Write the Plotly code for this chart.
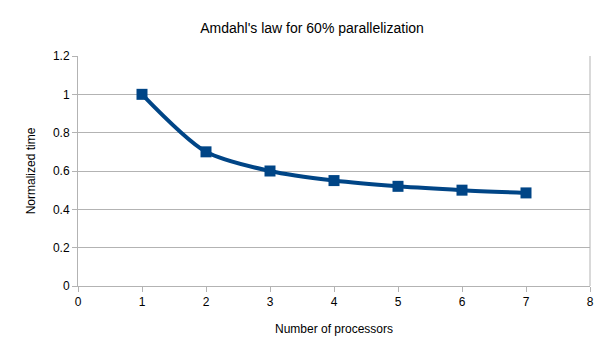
import plotly.graph_objects as go

processors = [1, 2, 3, 4, 5, 6, 7]
normalized_time = [1.0, 0.7, 0.6, 0.55, 0.52, 0.5, 0.4857]

title = "Amdahl's law for 60% parallelization"
x_title = "Number of processors"
y_title = "Normalized time"

color = "#004586"
grid = "#b3b3b3"
font = "Liberation Sans, Arial, sans-serif"

# page has an 8px body margin, so figure is 608x350 placed at (8, 8)
W, H = 608, 350

fig = go.Figure()
fig.add_trace(go.Scatter(
    x=processors, y=normalized_time, mode="lines+markers",
    line=dict(color=color, width=4, shape="spline", smoothing=0.8),
    marker=dict(symbol="square", size=11, color=color),
    showlegend=False,
))

fig.update_layout(
    width=W, height=H,
    margin=dict(l=70, r=26, t=48, b=72, autoexpand=False),
    paper_bgcolor="white", plot_bgcolor="white",
    font=dict(family=font, size=12, color="#000000"),
    title=dict(text=title, x=0.5, xanchor="center", y=1 - 20/H, yanchor="middle",
               font=dict(family=font, size=14, color="#000000")),
    xaxis=dict(range=[0, 8], dtick=1, tick0=0, showgrid=False, showline=True,
               linecolor=grid, linewidth=1, mirror=False, ticks="outside",
               tickcolor=grid, ticklen=5, zeroline=False,
               title=dict(text=x_title, standoff=16, font=dict(size=12)),
               tickfont=dict(size=12)),
    yaxis=dict(range=[0, 1.2], dtick=0.2, tick0=0, showgrid=True, gridcolor=grid,
               gridwidth=1, showline=True, linecolor=grid, linewidth=1,
               ticks="outside", tickcolor=grid, ticklen=5, zeroline=False,
               title=dict(text=y_title, standoff=14, font=dict(size=12)),
               tickfont=dict(size=12)),
)
# right border of plot area
fig.add_shape(type="line", xref="paper", yref="paper", x0=1, x1=1, y0=0, y1=1,
              line=dict(color=grid, width=1), layer="below")

fig.write_html("out.html")
